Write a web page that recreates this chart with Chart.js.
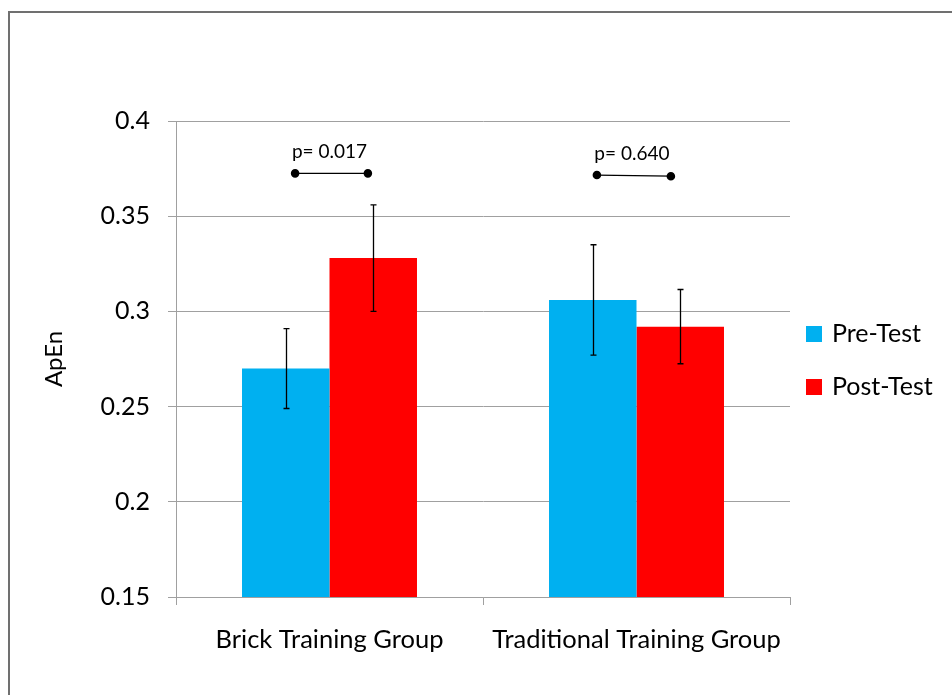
<!DOCTYPE html>
<html lang="en">
<head>
    <meta charset="UTF-8">
    <title>ApEn Pre/Post Test</title>
    <style>
        body {
            margin: 0;
            padding: 0;
            background-color: #ffffff;
        }
        canvas {
            display: block;
        }
    </style>
    <script src="https://cdn.jsdelivr.net/npm/chart.js"></script>
</head>
<body>
    <canvas id="apenChart" width="952" height="695"></canvas>

    <script>
        // Datos
        var groups = ['Brick Training Group', 'Traditional Training Group'];
        var preMeans = [0.270, 0.306];
        var preErrors = [0.021, 0.029];
        var postMeans = [0.328, 0.292];
        var postErrors = [0.028, 0.0195];
        var yTicks = [0.15, 0.2, 0.25, 0.3, 0.35, 0.4];

        // p-values sobre cada grupo
        var pLabels = ['p= 0.017', 'p= 0.640'];
        var pLineStart = [-0.112, -0.129];   // desplazamiento en anchos de categoria
        var pLineEnd = [0.125, 0.112];
        var pLineY = [[0.3725, 0.3725], [0.3716, 0.3710]];

        var fontName = 'Lato, "Open Sans", sans-serif';

        // Marco gris alrededor de la figura
        var framePlugin = {
            id: 'frame',
            beforeDraw: function (chart) {
                var ctx = chart.ctx;
                ctx.save();
                ctx.strokeStyle = '#707070';
                ctx.lineWidth = 2;
                ctx.strokeRect(9, 12, 1000, 1000);
                ctx.restore();
            }
        };

        // Barras de error
        var errorBarPlugin = {
            id: 'errorBars',
            afterDatasetsDraw: function (chart) {
                var ctx = chart.ctx;
                var yScale = chart.scales.y;
                ctx.save();
                ctx.strokeStyle = '#000000';
                ctx.lineWidth = 1.3;
                chart.data.datasets.forEach(function (ds, di) {
                    var meta = chart.getDatasetMeta(di);
                    meta.data.forEach(function (bar, i) {
                        var top = yScale.getPixelForValue(ds.data[i] + ds.errors[i]);
                        var bottom = yScale.getPixelForValue(ds.data[i] - ds.errors[i]);
                        var x = Math.round(bar.x) + 0.5;
                        ctx.beginPath();
                        ctx.moveTo(x, top);
                        ctx.lineTo(x, bottom);
                        ctx.moveTo(x - 3, top);
                        ctx.lineTo(x + 3, top);
                        ctx.moveTo(x - 3, bottom);
                        ctx.lineTo(x + 3, bottom);
                        ctx.stroke();
                    });
                });
                ctx.restore();
            }
        };

        // Lineas de comparacion con p-value
        var pValuePlugin = {
            id: 'pValues',
            afterDraw: function (chart) {
                var ctx = chart.ctx;
                var xScale = chart.scales.x;
                var yScale = chart.scales.y;
                var catWidth = xScale.width / groups.length;
                ctx.save();
                pLabels.forEach(function (label, i) {
                    var center = xScale.getPixelForValue(i);
                    var x1 = center + pLineStart[i] * catWidth;
                    var x2 = center + pLineEnd[i] * catWidth;
                    var y1 = yScale.getPixelForValue(pLineY[i][0]);
                    var y2 = yScale.getPixelForValue(pLineY[i][1]);
                    ctx.strokeStyle = '#000000';
                    ctx.lineWidth = 1.3;
                    ctx.beginPath();
                    ctx.moveTo(x1, y1);
                    ctx.lineTo(x2, y2);
                    ctx.stroke();
                    ctx.fillStyle = '#000000';
                    ctx.beginPath();
                    ctx.arc(x1, y1, 4.3, 0, Math.PI * 2);
                    ctx.arc(x2, y2, 4.3, 0, Math.PI * 2);
                    ctx.fill();
                    ctx.font = '19px ' + fontName;
                    ctx.textAlign = 'center';
                    ctx.textBaseline = 'middle';
                    ctx.fillText(label, (x1 + x2) / 2 - 2, Math.min(y1, y2) - 21);
                });
                ctx.restore();
            }
        };

        // Leyenda a la derecha
        var legendPlugin = {
            id: 'sideLegend',
            afterDraw: function (chart) {
                var ctx = chart.ctx;
                var area = chart.chartArea;
                ctx.save();
                ctx.font = '25px ' + fontName;
                ctx.textAlign = 'left';
                ctx.textBaseline = 'middle';
                chart.data.datasets.forEach(function (ds, i) {
                    var cy = 334 + i * 53;
                    ctx.fillStyle = ds.backgroundColor;
                    ctx.fillRect(area.right + 16, cy - 8, 16, 16);
                    ctx.fillStyle = '#000000';
                    ctx.fillText(ds.label, area.right + 42, cy);
                });
                ctx.restore();
            }
        };

        var ctxApen = document.getElementById('apenChart').getContext('2d');
        var apenChart = new Chart(ctxApen, {
            type: 'bar',
            data: {
                labels: groups,
                datasets: [{
                    label: 'Pre-Test',
                    data: preMeans,
                    errors: preErrors,
                    backgroundColor: '#00B0F0',
                    borderWidth: 0
                }, {
                    label: 'Post-Test',
                    data: postMeans,
                    errors: postErrors,
                    backgroundColor: '#FF0000',
                    borderWidth: 0
                }]
            },
            options: {
                responsive: false,
                animation: false,
                devicePixelRatio: 1,
                categoryPercentage: 0.57,
                barPercentage: 1.0,
                layout: {
                    padding: { left: 0, top: 121, right: 162, bottom: 0 }
                },
                plugins: {
                    legend: { display: false },
                    tooltip: { enabled: false }
                },
                scales: {
                    x: {
                        afterFit: function (scale) { scale.height = 98; },
                        grid: {
                            offset: true,
                            drawOnChartArea: false,
                            color: '#a0a0a0',
                            tickLength: 8
                        },
                        border: { color: '#a0a0a0' },
                        ticks: {
                            color: '#000000',
                            padding: 19,
                            font: { family: fontName, size: 25.5 }
                        }
                    },
                    y: {
                        min: yTicks[0],
                        max: yTicks[yTicks.length - 1],
                        afterFit: function (scale) { scale.width = 176; },
                        afterBuildTicks: function (scale) {
                            scale.ticks = yTicks.map(function (v) { return { value: v }; });
                        },
                        grid: {
                            color: '#a0a0a0',
                            tickLength: 8
                        },
                        border: { color: '#a0a0a0' },
                        ticks: {
                            color: '#000000',
                            padding: 18,
                            font: { family: fontName, size: 25 },
                            callback: function (v) { return String(Math.round(v * 100) / 100); }
                        },
                        title: {
                            display: true,
                            text: 'ApEn',
                            color: '#000000',
                            font: { family: fontName, size: 24 },
                            padding: { top: 40, bottom: 0 }
                        }
                    }
                }
            },
            plugins: [framePlugin, errorBarPlugin, pValuePlugin, legendPlugin]
        });
    </script>
</body>
</html>
